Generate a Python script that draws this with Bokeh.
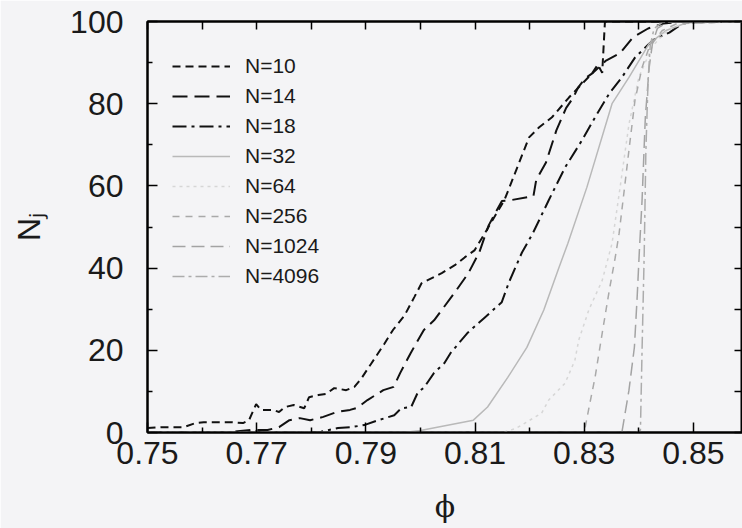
from bokeh.plotting import figure
from bokeh.models import (FixedTicker, PrintfTickFormatter, LinearAxis, Legend,
                          LegendItem, Range1d)
from bokeh.embed import file_html
from bokeh.resources import INLINE

# ---------------- data ----------------
phi_10 = [0.750, 0.7524, 0.7566, 0.7588, 0.7603, 0.7653, 0.7675, 0.7686, 0.7699,
          0.7708, 0.7730, 0.7741, 0.7752, 0.7768, 0.7787, 0.7796, 0.7813, 0.7827,
          0.7842, 0.7864, 0.7879, 0.7892, 0.7910, 0.7934, 0.7950, 0.7971, 0.7989,
          0.8002, 0.8039, 0.8063, 0.8081, 0.8099, 0.8118, 0.8154, 0.8199, 0.8217,
          0.8241, 0.8272, 0.8290, 0.8314, 0.8325, 0.8333, 0.8338, 0.8600]
N_10 = [1.1, 1.3, 1.3, 2.3, 2.5, 2.5, 2.3, 3.0, 6.9,
        5.5, 5.5, 5.0, 6.2, 6.7, 5.9, 8.6, 9.1, 9.4,
        10.8, 10.3, 11.1, 13.2, 16.8, 21.6, 25.0, 28.5, 33.0,
        36.3, 38.8, 40.7, 42.6, 44.3, 48.5, 56.6, 71.8, 74.2,
        76.7, 81.5, 84.0, 87.3, 89.5, 87.5, 100.0, 100.0]

phi_14 = [0.750, 0.7650, 0.7665, 0.7690, 0.7720, 0.7741, 0.7760, 0.7779, 0.7798,
          0.7822, 0.7847, 0.7871, 0.7884, 0.7903, 0.7932, 0.7951, 0.7963, 0.7982,
          0.8006, 0.8025, 0.8062, 0.8088, 0.8108, 0.8125, 0.8149, 0.8164, 0.8207,
          0.8212, 0.8230, 0.8249, 0.8267, 0.8280, 0.8289, 0.8302, 0.8316, 0.8340,
          0.8366, 0.8389, 0.8417, 0.8445, 0.8480, 0.8600]
N_14 = [0.0, 0.0, 0.3, 0.6, 0.6, 1.3, 3.0, 3.5, 3.0,
        3.8, 5.0, 5.5, 6.0, 7.9, 10.3, 11.1, 14.5, 19.3,
        24.9, 27.3, 33.9, 38.8, 43.9, 50.4, 56.3, 56.5, 57.5,
        61.4, 65.7, 73.5, 79.0, 81.5, 84.0, 86.2, 87.5, 90.5,
        92.3, 96.1, 98.3, 99.5, 100.0, 100.0]

phi_18 = [0.750, 0.7680, 0.7695, 0.7710, 0.7800, 0.7818, 0.7849, 0.7873, 0.7897,
          0.7923, 0.7952, 0.7965, 0.7983, 0.7995, 0.8007, 0.8025, 0.8044, 0.8055,
          0.8086, 0.8118, 0.8149, 0.8162, 0.8186, 0.8206, 0.8235, 0.8265, 0.8296,
          0.8320, 0.8346, 0.8369, 0.8393, 0.8419, 0.8430, 0.8456, 0.8480, 0.8504,
          0.8600]
N_18 = [0.0, 0.0, 0.4, 0.0, 0.0, 0.2, 1.1, 1.3, 1.8,
        3.0, 4.2, 5.9, 6.2, 9.7, 11.0, 14.5, 16.9, 19.3,
        24.2, 28.0, 31.7, 36.5, 43.8, 48.5, 56.5, 64.5, 71.1,
        76.7, 82.5, 86.4, 91.2, 94.6, 95.8, 97.3, 99.5, 99.8,
        100.0]

phi_32 = [0.750, 0.7970, 0.8000, 0.8097, 0.8123, 0.8160, 0.8195, 0.8226, 0.8252,
          0.8270, 0.8305, 0.8351, 0.8382, 0.8419, 0.8450, 0.8490, 0.8520, 0.8600]
N_32 = [0.0, 0.0, 0.5, 3.0, 6.2, 13.4, 20.7, 29.8, 39.5,
        46.0, 59.7, 80.0, 86.4, 94.6, 97.8, 99.8, 100.0, 100.0]

phi_64 = [0.750, 0.8150, 0.8175, 0.8222, 0.8235, 0.8265, 0.8283, 0.8290, 0.8309,
          0.8333, 0.8351, 0.8364, 0.8382, 0.8400, 0.8425, 0.8452, 0.8480, 0.8600]
N_64 = [0.0, 0.0, 1.0, 4.7, 7.9, 12.0, 17.6, 22.5, 30.0,
        37.0, 46.0, 58.0, 75.0, 86.4, 94.0, 97.8, 99.5, 100.0]

phi_256 = [0.750, 0.8300, 0.8309, 0.8320, 0.8333, 0.8346, 0.8357, 0.8364, 0.8382,
           0.8393, 0.8406, 0.8419, 0.8443, 0.8470, 0.8600]
N_256 = [0.0, 0.0, 6.2, 13.5, 24.2, 34.6, 42.7, 48.5, 68.7,
         80.8, 88.8, 93.7, 97.8, 99.5, 100.0]

phi_1024 = [0.750, 0.8369, 0.8382, 0.8392, 0.8397, 0.8401, 0.8406, 0.8412, 0.8419,
            0.8425, 0.8434, 0.8452, 0.8600]
N_1024 = [0.0, 0.0, 10.3, 20.8, 32.9, 44.0, 56.5, 76.7, 88.8,
          94.6, 98.3, 99.8, 100.0]

phi_4096 = [0.750, 0.8395, 0.8403, 0.8406, 0.8410, 0.8413, 0.8417, 0.8421, 0.8428,
            0.8443, 0.8600]
N_4096 = [0.0, 0.0, 0.5, 20.0, 44.0, 68.6, 85.6, 94.2, 98.3,
          99.8, 100.0]

series_labels = ["N=10", "N=14", "N=18", "N=32", "N=64", "N=256", "N=1024", "N=4096"]

x_major = [0.75, 0.77, 0.79, 0.81, 0.83, 0.85]
x_minor = [0.76, 0.78, 0.80, 0.82, 0.84, 0.86]
x_labels = ["0.75", "0.77", "0.79", "0.81", "0.83", "0.85"]
y_major = [0, 20, 40, 60, 80, 100]
y_minor = [10, 30, 50, 70, 90]
y_labels = ["0", "20", "40", "60", "80", "100"]
x_title = "ϕ"
y_title = "Nⱼ"

# ---------------- styles ----------------
BG = "#f4f4f6"
styles = [
    dict(color="#111111", width=2.0, dash="8 5"),
    dict(color="#111111", width=2.0, dash="15 7"),
    dict(color="#111111", width=2.0, dash="14 5 3 5"),
    dict(color="#b9b9b9", width=1.5, dash="solid"),
    dict(color="#d6d6d6", width=1.5, dash="3 4"),
    dict(color="#a9a9a9", width=1.5, dash="7 6"),
    dict(color="#a3a3a3", width=1.5, dash="13 6"),
    dict(color="#acacac", width=1.5, dash="12 4 3 4"),
]

X0, X1 = 0.75, 0.8590
p = figure(width=742, height=528, output_backend="svg", toolbar_location=None,
           x_range=Range1d(X0, X1), y_range=Range1d(0, 100),
           min_border_left=147, min_border_top=21, min_border_bottom=96,
           min_border_right=0,
           background_fill_color=BG, border_fill_color=BG)
p.outline_line_color = "black"
p.outline_line_width = 2
p.grid.visible = False

xs = [phi_10, phi_14, phi_18, phi_32, phi_64, phi_256, phi_1024, phi_4096]
ys = [N_10, N_14, N_18, N_32, N_64, N_256, N_1024, N_4096]
renderers = []
for x, y, st in zip(xs, ys, styles):
    r = p.line(x, y, line_color=st["color"], line_width=st["width"],
               line_dash=st["dash"])
    renderers.append(r)

xa = p.xaxis[0]
ya = p.yaxis[0]
xa.ticker = FixedTicker(ticks=x_major, minor_ticks=x_minor)
ya.ticker = FixedTicker(ticks=y_major, minor_ticks=y_minor)
xa.formatter = PrintfTickFormatter(format="%.2f")
ya.formatter = PrintfTickFormatter(format="%d")
xa.major_label_overrides = {v: s for v, s in zip(x_major, x_labels)}
ya.major_label_overrides = {v: s for v, s in zip(y_major, y_labels)}

for ax in (xa, ya):
    ax.major_tick_in = 10
    ax.major_tick_out = 0
    ax.minor_tick_in = 5
    ax.minor_tick_out = 0
    ax.axis_line_color = "black"
    ax.axis_line_width = 2
    ax.major_tick_line_width = 1.5
    ax.minor_tick_line_width = 1.5
    ax.major_label_text_font = "Liberation Sans"
    ax.major_label_text_font_size = "32px"
    ax.major_label_text_color = "#1a1a1a"
    ax.axis_label_text_font_style = "normal"
    ax.axis_label_text_color = "#1a1a1a"

xa.major_label_standoff = 9
xa.axis_label = x_title
xa.axis_label_text_font = "DejaVu Serif"
xa.axis_label_text_font_size = "30px"
xa.axis_label_standoff = 22

ya.major_label_standoff = 24
ya.axis_label = y_title
ya.axis_label_text_font = "Liberation Sans"
ya.axis_label_text_font_size = "32px"
ya.axis_label_standoff = 20

# mirrored ticks on top and right (no labels)
all_x = sorted(x_major + x_minor)
all_y = sorted(y_major + y_minor)
top = LinearAxis(ticker=FixedTicker(ticks=[], minor_ticks=all_x),
                 major_tick_in=0, major_tick_out=0, minor_tick_in=8,
                 minor_tick_out=0, axis_line_width=2,
                 minor_tick_line_width=1.5)
right = LinearAxis(ticker=FixedTicker(ticks=[], minor_ticks=all_y),
                   major_tick_in=0, major_tick_out=0, minor_tick_in=8,
                   minor_tick_out=0, axis_line_width=2,
                   minor_tick_line_width=1.5)
p.add_layout(top, "above")
p.add_layout(right, "right")

items = [LegendItem(label=lab, renderers=[r]) for lab, r in zip(series_labels, renderers)]
legend = Legend(items=items, location=(25, 144), padding=0, margin=0,
                glyph_width=58, glyph_height=20, label_height=20,
                label_standoff=15, spacing=6,
                label_text_font="Liberation Sans", label_text_font_size="21px",
                label_text_color="#1a1a1a",
                background_fill_alpha=0, border_line_alpha=0)
p.add_layout(legend)

open("out.html", "w").write(file_html(p, INLINE))
